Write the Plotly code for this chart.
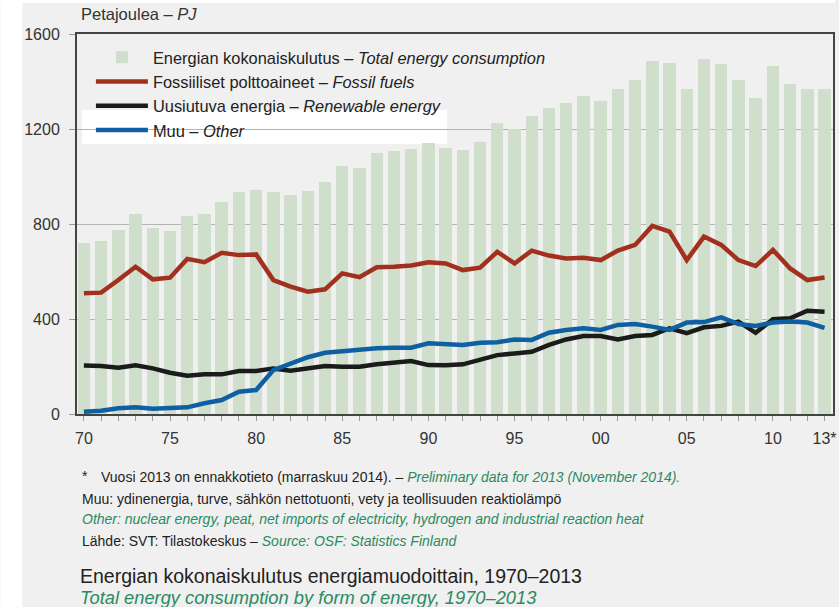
import plotly.graph_objects as go

years = list(range(1970, 2014))
total = [718, 728, 775, 843, 782, 769, 835, 843, 894, 936,
         944, 935, 921, 939, 977, 1046, 1037, 1098, 1109, 1114,
         1140, 1121, 1112, 1144, 1224, 1200, 1255, 1290, 1308, 1339,
         1319, 1367, 1408, 1486, 1480, 1367, 1495, 1472, 1405, 1331,
         1465, 1389, 1370, 1367]
fossil = [508, 511, 564, 620, 567, 574, 653, 639, 679, 669,
          672, 564, 536, 515, 525, 592, 576, 618, 620, 625,
          639, 634, 606, 616, 683, 634, 688, 667, 655, 658,
          648, 688, 712, 792, 768, 648, 747, 712, 648, 623,
          691, 613, 564, 575]
renewable = [204, 202, 195, 205, 192, 174, 161, 167, 167, 181,
             181, 192, 182, 192, 202, 199, 199, 209, 218, 223,
             206, 205, 209, 227, 248, 255, 262, 291, 314, 328,
             328, 314, 328, 333, 361, 340, 365, 371, 389, 342,
             399, 403, 435, 431]
other = [10, 14, 24, 28, 22, 25, 28, 45, 59, 94,
         101, 185, 213, 239, 258, 265, 269, 277, 279, 279,
         298, 293, 291, 300, 302, 314, 312, 342, 354, 361,
         354, 375, 379, 368, 354, 385, 387, 407, 379, 371,
         385, 389, 385, 363]
label_years = {1970: "70", 1975: "75", 1980: "80", 1985: "85", 1990: "90",
               1995: "95", 2000: "00", 2005: "05", 2010: "10", 2013: "13*"}
tick_text = [label_years.get(y, "") for y in years]

FONT = "Liberation Sans, Arial, sans-serif"
GREEN_TXT = "#2b8a62"
W, H = 839, 607
L, T = 77, 34
PW, PH = 760, 380
R = W - L - PW
B = H - T - PH


def px(xp):
    return (xp - L) / PW


def py(yp):
    return 1 - (yp - T) / PH


fig = go.Figure()
fig.add_trace(go.Bar(x=years, y=total, width=0.72, marker_color="#d0dfcc",
                     marker_line_width=0,
                     name="Energian kokonaiskulutus – <i>Total energy consumption</i>",
                     legendgroup="a"))
fig.add_trace(go.Scatter(x=years, y=fossil, mode="lines",
                         line=dict(color="#a3301f", width=4.5),
                         name="Fossiiliset polttoaineet – <i>Fossil fuels</i>",
                         legendgroup="b"))
fig.add_trace(go.Scatter(x=years, y=renewable, mode="lines",
                         line=dict(color="#1b1b1b", width=4.5),
                         name="Uusiutuva energia – <i>Renewable energy</i>",
                         legendgroup="c"))
fig.add_trace(go.Scatter(x=years, y=other, mode="lines",
                         line=dict(color="#0f5fa3", width=4.5),
                         name="Muu – <i>Other</i>",
                         legendgroup="d"))

shapes = [
    # white strips at the left and top edges
    dict(type="rect", xref="paper", yref="paper", x0=px(0), x1=px(22),
         y0=py(H), y1=py(0), fillcolor="white", line_width=0, layer="below"),
    dict(type="rect", xref="paper", yref="paper", x0=px(0), x1=px(W),
         y0=py(3), y1=py(0), fillcolor="white", line_width=0, layer="below"),
    # white box behind last legend row
    dict(type="rect", xref="paper", yref="paper", x0=px(82), x1=px(449),
         y0=py(144), y1=py(110), fillcolor="white", line_width=0, layer="between"),
]


def note(text, xpage, ypage, size, color="#222"):
    return dict(text=text, x=px(xpage), y=py(ypage), xref="paper", yref="paper",
                xanchor="left", yanchor="middle", showarrow=False,
                font=dict(family=FONT, size=size, color=color))


annotations = [
    note("Petajoulea – <i>PJ</i>", 79, 14, 16.5, "#333"),
    note("*", 80, 476, 14),
    note("Vuosi 2013 on ennakkotieto (marraskuu 2014). – "
         f"<span style='color:{GREEN_TXT}'><i>Preliminary data for 2013 (November 2014).</i></span>",
         99, 477, 14),
    note("Muu: ydinenergia, turve, sähkön nettotuonti, vety ja teollisuuden reaktiolämpö",
         80, 499, 14),
    note("<i>Other: nuclear energy, peat, net imports of electricity, hydrogen and industrial reaction heat</i>",
         80, 519, 14, GREEN_TXT),
    note(f"Lähde: SVT: Tilastokeskus – <span style='color:{GREEN_TXT}'><i>Source: OSF: Statistics Finland</i></span>",
         80, 541, 14),
    note("Energian kokonaiskulutus energiamuodoittain, 1970–2013", 78, 576, 19.5),
    note("<i>Total energy consumption by form of energy, 1970–2013</i>", 78, 597, 18.3, GREEN_TXT),
]

fig.update_layout(
    width=W, height=H,
    margin=dict(l=L, r=R, t=T, b=B, pad=0),
    paper_bgcolor="#f0f0f0", plot_bgcolor="#f0f0f0",
    font=dict(family=FONT, size=16, color="#333"),
    bargap=0,
    shapes=shapes, annotations=annotations,
    showlegend=True,
    legend=dict(x=px(91), y=py(40), xanchor="left", yanchor="top",
                bgcolor="rgba(0,0,0,0)", borderwidth=0,
                font=dict(family=FONT, size=16.4, color="#222"),
                itemwidth=52, tracegroupgap=0, traceorder="grouped",
                itemclick=False, itemdoubleclick=False),
    xaxis=dict(range=[1969.6, 2013.49], tickvals=years, ticktext=tick_text,
               ticks="outside", ticklen=5, tickcolor="#9a9a9a", tickwidth=1,
               showgrid=False, zeroline=False,
               showline=True, linecolor="#444", linewidth=2, mirror=True,
               tickfont=dict(family=FONT, size=16, color="#333"),
               ticklabelstandoff=4, fixedrange=True),
    yaxis=dict(range=[0, 1600], tickvals=[0, 400, 800, 1200, 1600],
               ticks="outside", ticklen=6, tickcolor="#9a9a9a", tickwidth=1,
               showgrid=True, gridcolor="#b4b4b4", gridwidth=1,
               zeroline=False,
               showline=True, linecolor="#444", linewidth=2, mirror=True,
               tickfont=dict(family=FONT, size=16, color="#333"),
               ticklabelstandoff=6, fixedrange=True),
)

fig.write_html(
    "out.html",
    config={"displayModeBar": False},
    post_script="document.body.style.margin='0';document.body.style.overflow='hidden';",
)
